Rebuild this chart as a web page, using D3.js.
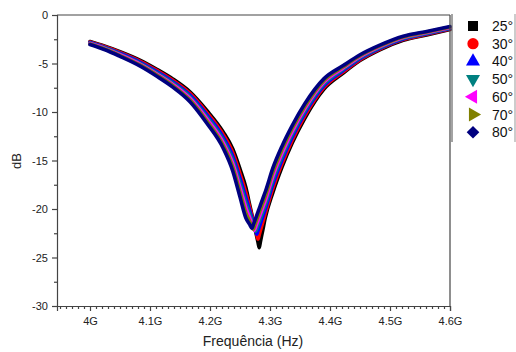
<!DOCTYPE html>
<html>
<head>
<meta charset="utf-8">
<script src="https://cdn.jsdelivr.net/npm/d3@7"></script>
<style>
  body { margin: 0; background: #fff; }
  svg { font-family: "Liberation Sans", Arial, sans-serif; }
</style>
</head>
<body>
<div id="chart"></div>
<script>
// frequency grid (GHz) shared by every curve
const freqGHz = [4.000, 4.025, 4.050, 4.083, 4.112, 4.138, 4.167, 4.195, 4.222, 4.238, 4.250, 4.260,
  4.266, 4.270, 4.272, 4.274, 4.276, 4.278, 4.280, 4.282, 4.284, 4.288,
  4.292, 4.305, 4.320, 4.337, 4.358, 4.390, 4.422, 4.450, 4.483, 4.522, 4.563, 4.600];

// S11 (dB) per incidence angle
const db25 = [-2.74, -3.22, -3.78, -4.65, -5.62, -6.59, -7.94, -9.86, -12.05, -13.81, -15.88, -17.84,
  -19.52, -20.64, -21.20, -21.76, -22.32, -22.88, -23.44, -24.0, -23.39, -22.17,
  -20.95, -18.26, -15.68, -13.20, -10.65, -7.64, -5.99, -4.70, -3.59, -2.61, -2.03, -1.49];
const db30 = [-2.79, -3.28, -3.86, -4.75, -5.74, -6.73, -8.11, -10.08, -12.33, -14.19, -16.36, -18.36,
  -19.78, -20.73, -21.20, -21.68, -22.15, -22.63, -23.1, -22.67, -22.23, -21.37,
  -20.50, -17.84, -15.32, -12.90, -10.40, -7.46, -5.86, -4.60, -3.51, -2.54, -1.97, -1.44];
const db40 = [-2.84, -3.34, -3.94, -4.85, -5.86, -6.87, -8.28, -10.30, -12.61, -14.57, -16.84, -18.88,
  -20.12, -20.95, -21.36, -21.77, -22.19, -22.6, -22.24, -21.87, -21.51, -20.78,
  -20.05, -17.42, -14.96, -12.60, -10.15, -7.28, -5.73, -4.50, -3.43, -2.47, -1.91, -1.39];
const db50 = [-2.89, -3.40, -4.02, -4.95, -5.98, -7.01, -8.45, -10.52, -12.89, -14.95, -17.32, -19.40,
  -20.49, -21.21, -21.58, -21.94, -22.3, -21.96, -21.62, -21.29, -20.95, -20.27,
  -19.60, -17.00, -14.60, -12.30, -9.90, -7.10, -5.60, -4.40, -3.35, -2.40, -1.85, -1.34];
const db60 = [-2.94, -3.46, -4.10, -5.05, -6.10, -7.15, -8.62, -10.74, -13.17, -15.33, -17.80, -19.92,
  -20.90, -21.55, -21.87, -22.2, -21.86, -21.52, -21.19, -20.85, -20.51, -19.83,
  -19.15, -16.58, -14.24, -12.00, -9.65, -6.92, -5.47, -4.30, -3.27, -2.33, -1.79, -1.29];
const db70 = [-2.99, -3.52, -4.18, -5.15, -6.22, -7.29, -8.79, -10.96, -13.45, -15.71, -18.28, -20.44,
  -21.27, -21.82, -22.1, -21.76, -21.42, -21.08, -20.74, -20.40, -20.06, -19.38,
  -18.70, -16.16, -13.88, -11.70, -9.40, -6.74, -5.34, -4.20, -3.19, -2.26, -1.73, -1.24];
const db80 = [-3.04, -3.58, -4.26, -5.25, -6.34, -7.43, -8.96, -11.18, -13.73, -16.09, -18.76, -20.96,
  -21.58, -22.0, -21.66, -21.32, -20.98, -20.64, -20.30, -19.95, -19.61, -18.93,
  -18.25, -15.74, -13.52, -11.40, -9.15, -6.56, -5.21, -4.10, -3.11, -2.19, -1.67, -1.19];

const angleLabels = ["25°", "30°", "40°", "50°", "60°", "70°", "80°"];
const seriesValues = [db25, db30, db40, db50, db60, db70, db80];

const xTickValues = [4.0, 4.1, 4.2, 4.3, 4.4, 4.5, 4.6];
const xTickLabels = ["4G", "4.1G", "4.2G", "4.3G", "4.4G", "4.5G", "4.6G"];
const yTickValues = [0, -5, -10, -15, -20, -25, -30];

const colors = ["#000000", "#ff0000", "#0000ff", "#008080", "#ff00ff", "#808000", "#000080"];

const width = 516, height = 352;
const plot = { left: 57, right: 450, top: 15, bottom: 306 };

const svg = d3.select("#chart").append("svg")
  .attr("width", width)
  .attr("height", height);

const x = d3.scaleLinear().domain([3.945, 4.6]).range([plot.left, plot.right]);
const y = d3.scaleLinear().domain([-30, 0]).range([plot.bottom, plot.top]);

// curves, 25° first so 80° ends up on top
const line = d3.line()
  .x((d, i) => x(freqGHz[i]))
  .y(d => y(d))
  .curve(d3.curveMonotoneX);

seriesValues.forEach((vals, i) => {
  svg.append("path")
    .datum(vals)
    .attr("d", line)
    .attr("fill", "none")
    .attr("stroke", colors[i])
    .attr("stroke-width", 3.6)
    .attr("stroke-linejoin", "round")
    .attr("stroke-linecap", "round");
});

// axes
const axisColor = "#444";
svg.append("g")
  .attr("transform", `translate(0,${plot.bottom})`)
  .call(d3.axisBottom(x).tickValues(xTickValues).tickSize(5).tickPadding(6)
    .tickFormat((d, i) => xTickLabels[i]));

const xMinor = d3.range(3.95, 4.6001, 0.01).filter(v => Math.abs(v * 10 - Math.round(v * 10)) > 1e-6);
svg.append("g")
  .attr("transform", `translate(0,${plot.bottom})`)
  .call(d3.axisBottom(x).tickValues(xMinor).tickSize(3).tickFormat(""))
  .call(g => g.select(".domain").remove());

svg.append("g")
  .attr("transform", `translate(${plot.left},0)`)
  .call(d3.axisLeft(y).tickValues(yTickValues).tickSize(5).tickPadding(4)
    .tickFormat(d => String(d)));

svg.append("g")
  .attr("transform", `translate(${plot.left},0)`)
  .call(d3.axisLeft(y).tickValues(d3.range(-27.5, 0, 5)).tickSize(3).tickFormat(""))
  .call(g => g.select(".domain").remove());

svg.selectAll(".domain, .tick line").attr("stroke", axisColor).attr("stroke-width", 1.2);
svg.selectAll(".tick text").attr("font-size", 11).attr("fill", "#222")
  .attr("font-family", "'Liberation Sans', Arial, sans-serif");

// frame top and right
svg.append("line")
  .attr("x1", plot.left).attr("x2", plot.right)
  .attr("y1", plot.top).attr("y2", plot.top)
  .attr("stroke", axisColor).attr("stroke-width", 1.2);
svg.append("line")
  .attr("x1", plot.right).attr("x2", plot.right)
  .attr("y1", plot.top).attr("y2", plot.bottom)
  .attr("stroke", axisColor).attr("stroke-width", 1.2);

// axis titles
svg.append("text")
  .attr("x", 253)
  .attr("y", 346)
  .attr("text-anchor", "middle")
  .attr("font-size", 14)
  .attr("fill", "#222")
  .text("Frequência (Hz)");

svg.append("text")
  .attr("transform", "translate(21,161) rotate(-90)")
  .attr("text-anchor", "middle")
  .attr("font-size", 13)
  .attr("fill", "#222")
  .text("dB");

// legend
const legend = svg.append("g");
legend.append("line").attr("x1", 452).attr("x2", 452).attr("y1", 14).attr("y2", 142)
  .attr("stroke", "#666").attr("stroke-width", 1.2);
legend.append("line").attr("x1", 515).attr("x2", 515).attr("y1", 14).attr("y2", 142)
  .attr("stroke", "#999").attr("stroke-width", 1);

const symbols = [
  { type: d3.symbolSquare, size: 100, rot: 0 },
  { type: d3.symbolCircle, size: 100, rot: 0 },
  { type: d3.symbolTriangle, size: 85, rot: 0 },
  { type: d3.symbolTriangle, size: 85, rot: 180 },
  { type: d3.symbolTriangle, size: 85, rot: -90 },
  { type: d3.symbolTriangle, size: 85, rot: 90 },
  { type: d3.symbolSquare, size: 80, rot: 45 }
];

angleLabels.forEach((lab, i) => {
  const cy = 26 + i * 17.7;
  legend.append("path")
    .attr("d", d3.symbol().type(symbols[i].type).size(symbols[i].size)())
    .attr("transform", `translate(473,${cy}) rotate(${symbols[i].rot})`)
    .attr("fill", colors[i]);
  legend.append("text")
    .attr("x", 492)
    .attr("y", cy + 5)
    .attr("font-size", 14)
    .attr("fill", "#111")
    .text(lab);
});
</script>
</body>
</html>
